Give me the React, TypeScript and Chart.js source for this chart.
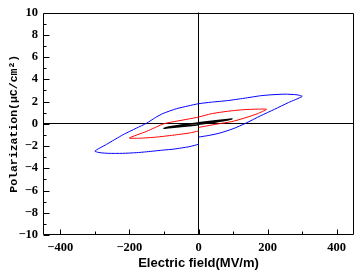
import React, { useEffect, useRef } from "react";
import { Chart, registerables } from "chart.js";

Chart.register(...registerables);

// ---- data (E in MV/m, P in µC/cm²) ----
const blueE = [0, 30, 60, 100, 137, 180, 220, 260, 300, 285, 250, 210, 180, 132, 84, 37, 0, -30, -64, -103, -125, -150, -180, -218, -266, -300, -285, -260, -220, -180, -150, -100, -74, -50, -25, 0];
const blueP = [-1.2, -1.05, -0.85, -0.45, 0.05, 0.72, 1.3, 1.9, 2.46, 2.6, 2.66, 2.6, 2.52, 2.29, 2.08, 1.94, 1.8, 1.6, 1.35, 0.92, 0.55, 0.05, -0.4, -0.98, -1.85, -2.46, -2.6, -2.66, -2.66, -2.6, -2.52, -2.36, -2.29, -2.18, -2.05, -1.85];

const redE = [0, 50, 100, 140, 170, 197, 170, 132, 84, 37, 0, -30, -60, -100, -150, -200, -170, -122, -74, -26, 0];
const redP = [-0.33, -0.05, 0.22, 0.58, 0.9, 1.3, 1.31, 1.27, 1.12, 0.9, 0.6, 0.42, 0.25, 0.0, -0.68, -1.28, -1.3, -1.2, -1.03, -0.83, -0.65];

const blackE = [0, 50, 97, 50, 0, -50, -100, -50, 0];
const blackP = [-0.05, 0.15, 0.42, 0.27, 0.08, -0.12, -0.4, -0.25, -0.1];

const xMajorTicks = [-400, -200, 0, 200, 400];
const xMinorTicks = [-300, -100, 100, 300];
const yMajorTicks = [-10, -8, -6, -4, -2, 0, 2, 4, 6, 8, 10];
const yMinorTicks = [-9, -7, -5, -3, -1, 1, 3, 5, 7, 9];

const toPts = (xs: number[], ys: number[]) => xs.map((x, i) => ({ x, y: ys[i] }));
const fmt = (v: number) => (v < 0 ? "\u2212" + Math.abs(v) : String(v));

const framePlugin = {
  id: "frame",
  afterDraw(chart: any) {
    const { ctx, chartArea: a, scales } = chart;
    const xs = scales.x, ys = scales.y;
    ctx.save();
    ctx.strokeStyle = "#000";
    ctx.lineWidth = 1;
    const L = Math.round(a.left) + 0.5, R = Math.round(a.right) - 0.5;
    const T = Math.round(a.top) + 0.5, B = Math.round(a.bottom) - 0.5;
    ctx.beginPath();
    ctx.rect(L, T, R - L, B - T);
    ctx.stroke();
    ctx.beginPath();
    xMajorTicks.forEach((v) => {
      const p = Math.round(xs.getPixelForValue(v)) + 0.5;
      ctx.moveTo(p, B); ctx.lineTo(p, B - 5);
    });
    xMinorTicks.forEach((v) => {
      const p = Math.round(xs.getPixelForValue(v)) + 0.5;
      ctx.moveTo(p, B); ctx.lineTo(p, B - 3);
    });
    yMajorTicks.forEach((v) => {
      const p = Math.round(ys.getPixelForValue(v)) + 0.5;
      ctx.moveTo(L, p); ctx.lineTo(L + 6, p);
    });
    yMinorTicks.forEach((v) => {
      const p = Math.round(ys.getPixelForValue(v)) + 0.5;
      ctx.moveTo(L, p); ctx.lineTo(L + 3, p);
    });
    ctx.stroke();
    ctx.restore();
  },
};

export default function App() {
  const ref = useRef<HTMLCanvasElement>(null);
  useEffect(() => {
    if (!ref.current) return;
    const tickFont = { family: "'Liberation Serif', serif", weight: "bold" as const, size: 12.5 };
    const chart = new Chart(ref.current, {
      type: "scatter",
      data: {
        datasets: [
          { data: toPts(blueE, blueP), showLine: true, borderColor: "#0000ff", borderWidth: 1, pointRadius: 0, tension: 0.2, fill: false },
          { data: toPts(redE, redP), showLine: true, borderColor: "#ff0000", borderWidth: 1, pointRadius: 0, tension: 0.2, fill: false },
          { data: toPts(blackE, blackP), showLine: true, borderColor: "#000000", borderWidth: 1.5, pointRadius: 0, tension: 0.2, fill: false },
        ],
      },
      options: {
        animation: false,
        responsive: false,
        events: [],
        layout: { padding: { left: 0, right: 4, top: 6, bottom: 0 } },
        plugins: { legend: { display: false }, tooltip: { enabled: false } },
        scales: {
          x: {
            type: "linear",
            min: -450,
            max: 450,
            afterBuildTicks: (s: any) => { s.ticks = xMajorTicks.map((v) => ({ value: v })); },
            afterFit: (s: any) => { s.height = 39; },
            border: { display: false },
            grid: { drawTicks: false, color: (c: any) => (c.tick && c.tick.value === 0 ? "#000" : "rgba(0,0,0,0)"), lineWidth: 1 },
            ticks: { padding: 5, color: "#000", font: tickFont, callback: (v: any) => fmt(Number(v)), maxRotation: 0 },
            title: { display: true, text: "Electric field(MV/m)", color: "#000", font: { family: "'Liberation Sans', Arial, sans-serif", weight: "bold", size: 13 }, padding: { top: 0, bottom: 3 } },
          },
          y: {
            type: "linear",
            min: -10,
            max: 10,
            afterBuildTicks: (s: any) => { s.ticks = yMajorTicks.map((v) => ({ value: v })); },
            afterFit: (s: any) => { s.width = 43; },
            border: { display: false },
            grid: { drawTicks: false, color: (c: any) => (c.tick && c.tick.value === 0 ? "#000" : "rgba(0,0,0,0)"), lineWidth: 1 },
            ticks: { padding: 5, color: "#000", font: tickFont, callback: (v: any) => fmt(Number(v)) },
            title: { display: true, text: "Polarization(\u03bcC/cm\u00b2)", color: "#000", font: { family: "'Liberation Mono', monospace", weight: "bold", size: 11.5 }, padding: { top: 7, bottom: 0 } },
          },
        },
      },
      plugins: [framePlugin],
    });
    return () => chart.destroy();
  }, []);
  return (
    <div style={{ position: "absolute", left: 0, top: 0, width: 358, height: 274, background: "#fff" }}>
      <canvas ref={ref} width={358} height={274} style={{ display: "block", width: 358, height: 274 }} />
    </div>
  );
}
